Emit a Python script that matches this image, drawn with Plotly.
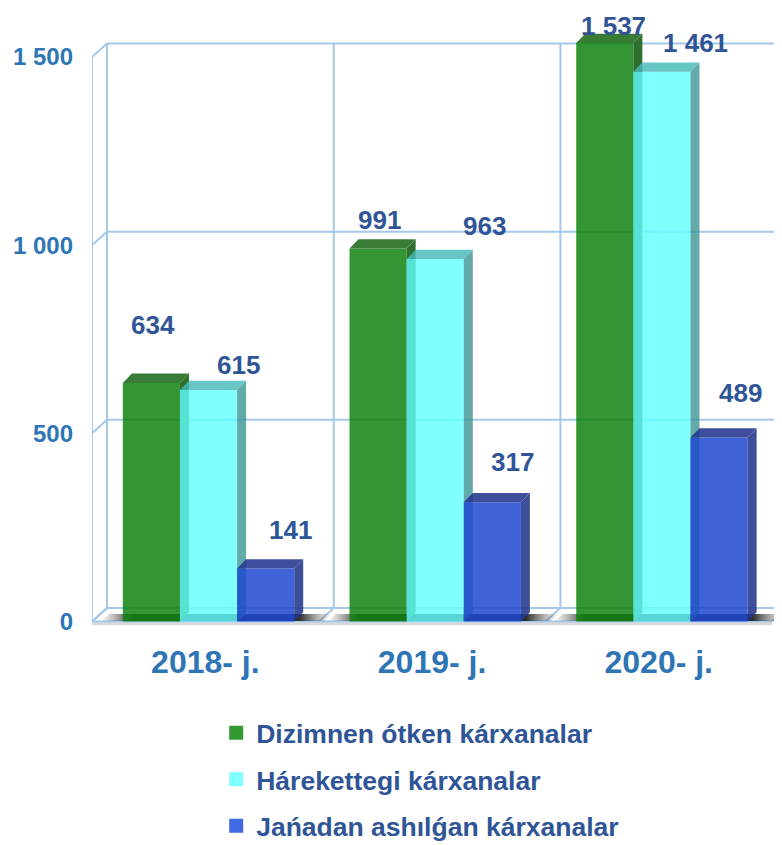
import plotly.graph_objects as go

# ---------------- data ----------------
categories = ["2018- j.", "2019- j.", "2020- j."]
series_names = ["Dizimnen ótken kárxanalar", "Hárekettegi kárxanalar", "Jańadan ashılǵan kárxanalar"]
registered = [634, 991, 1537]
active = [615, 963, 1461]
newly_opened = [141, 317, 489]
y_tick_vals = [0, 500, 1000, 1500]
y_tick_text = ["0", "500", "1 000", "1 500"]

series_values = [registered, active, newly_opened]

# ---------------- style ----------------
FONT = "Liberation Sans, Arial, sans-serif"
AXIS_COLOR = "#2e75b6"
LABEL_COLOR = "#2f5597"
GRID = "#a5c8e8"

front_colors = ["rgba(15,131,15,0.85)", "rgba(96,255,255,0.8)", "rgba(31,73,208,0.85)"]
top_colors = ["rgb(56,124,54)", "rgba(72,185,185,0.82)", "rgba(35,55,145,0.88)"]
side_colors = ["rgb(48,112,46)", "rgba(60,150,150,0.8)", "rgba(35,55,140,0.88)"]
legend_colors = ["#339933", "#80ffff", "#4169e1"]

# geometry (in axis units)
BAR_W = 0.252
GROUP_START = -0.364
BAR_DX, BAR_DY = 0.0397, 24.7
WALL_DX, WALL_DY = 0.0662, 35.9
X_RANGE = [-0.5, 2.5437]
Y_RANGE = [-49.16, 1630.3]

# label offsets in pixels (x, y) per series per category
label_shift = [
    [(2, 58), (1, 29), (9, 17)],
    [(30, 25), (49, 33), (34, 29)],
    [(25, 38), (20, 40), (21, 44)],
]

fig = go.Figure()

# ---------------- walls / grid (shapes below traces) ----------------
shapes = []
def line(x0, y0, x1, y1, color=GRID, width=2):
    shapes.append(dict(type="line", xref="x", yref="y", x0=x0, y0=y0, x1=x1, y1=y1,
                       line=dict(color=color, width=width), layer="below"))

n = len(categories)
left, right = -0.5, n - 0.5
top = y_tick_vals[-1]
# floor lip
line(left, -6, right, -6, color="#d9d9d9", width=3)
# back wall horizontal lines
for v in y_tick_vals:
    line(left + WALL_DX, v + WALL_DY, right + WALL_DX, v + WALL_DY)
    line(left, v, left + WALL_DX, v + WALL_DY)
# back wall vertical lines & floor slants
for i in range(n + 1):
    xb = left + i + WALL_DX
    line(xb, WALL_DY, xb, top + WALL_DY)
    line(left + i, 0, xb, WALL_DY)
# front-left vertical edge and floor front line
line(left, 0, left, top)
line(left, 0, right, 0)

# ---------------- floor shadows ----------------
for c in range(n):
    xl = c + GROUP_START - 0.097
    xr = c + GROUP_START + 3 * BAR_W + BAR_DX + 0.09
    ys0, ys1 = 1, 20
    sh = 0.037
    fig.add_trace(go.Scatter(
        x=[xl, xr, xr + sh, xl + sh, xl], y=[ys0, ys0, ys1, ys1, ys0],
        mode="lines", line=dict(width=0), fill="toself",
        fillgradient=dict(type="horizontal", colorscale=[
            [0, "rgba(90,90,90,0)"], [0.14, "rgba(25,25,25,0.9)"],
            [0.86, "rgba(25,25,25,0.9)"], [1, "rgba(90,90,90,0)"]]),
        hoverinfo="skip", showlegend=False))

# ---------------- 3D bars ----------------
for s, vals in enumerate(series_values):
    fx, fy, tx, ty, sx, sy = [], [], [], [], [], []
    for c, v in enumerate(vals):
        x0 = c + GROUP_START + s * BAR_W
        x1 = x0 + BAR_W
        fx += [x0, x1, x1, x0, x0, None]
        fy += [0, 0, v, v, 0, None]
        tx += [x0, x1, x1 + BAR_DX, x0 + BAR_DX, x0, None]
        ty += [v, v, v + BAR_DY, v + BAR_DY, v, None]
        sx += [x1, x1 + BAR_DX, x1 + BAR_DX, x1, x1, None]
        sy += [0, BAR_DY, v + BAR_DY, v, 0, None]
    for xs, ys, col in ((fx, fy, front_colors[s]), (tx, ty, top_colors[s]), (sx, sy, side_colors[s])):
        fig.add_trace(go.Scatter(x=xs, y=ys, mode="lines", line=dict(width=0),
                                 fill="toself", fillcolor=col, connectgaps=False,
                                 hoverinfo="skip", showlegend=False))

# legend entries
for s, name in enumerate(series_names):
    fig.add_trace(go.Scatter(x=[None], y=[None], mode="markers", name=name,
                             legendgroup=name,
                             marker=dict(symbol="square", size=14, color=legend_colors[s])))

# ---------------- value labels ----------------
annotations = []
for s, vals in enumerate(series_values):
    for c, v in enumerate(vals):
        xc = c + GROUP_START + s * BAR_W + BAR_W / 2
        dx, dy = label_shift[s][c]
        annotations.append(dict(
            x=xc, y=v, xref="x", yref="y", text=f"{v:,}".replace(",", " "),
            showarrow=False, xshift=dx, yshift=dy,
            font=dict(family=FONT, size=26, color=LABEL_COLOR, weight="bold")))

fig.update_layout(
    width=774, height=837,
    margin=dict(l=84, r=0, t=0, b=205, autoexpand=False),
    paper_bgcolor="white", plot_bgcolor="rgba(0,0,0,0)",
    shapes=shapes, annotations=annotations,
    showlegend=True,
    legend=dict(x=0.18, y=-0.1092, xanchor="left", yanchor="top",
                orientation="v", tracegroupgap=9, bgcolor="rgba(0,0,0,0)",
                font=dict(family=FONT, size=26.5, color=LABEL_COLOR, weight="bold")),
    xaxis=dict(range=X_RANGE, showgrid=False, zeroline=False, showline=False,
               tickvals=list(range(n)), ticktext=categories, ticks="",
               tickfont=dict(family=FONT, size=32, color=AXIS_COLOR, weight="bold"),
               fixedrange=True),
    yaxis=dict(range=Y_RANGE, showgrid=False, zeroline=False, showline=False,
               tickvals=y_tick_vals, ticktext=y_tick_text, ticks="",
               ticklabelstandoff=18,
               tickfont=dict(family=FONT, size=24, color=AXIS_COLOR, weight="bold"),
               fixedrange=True),
)

fig.write_html("out.html")
